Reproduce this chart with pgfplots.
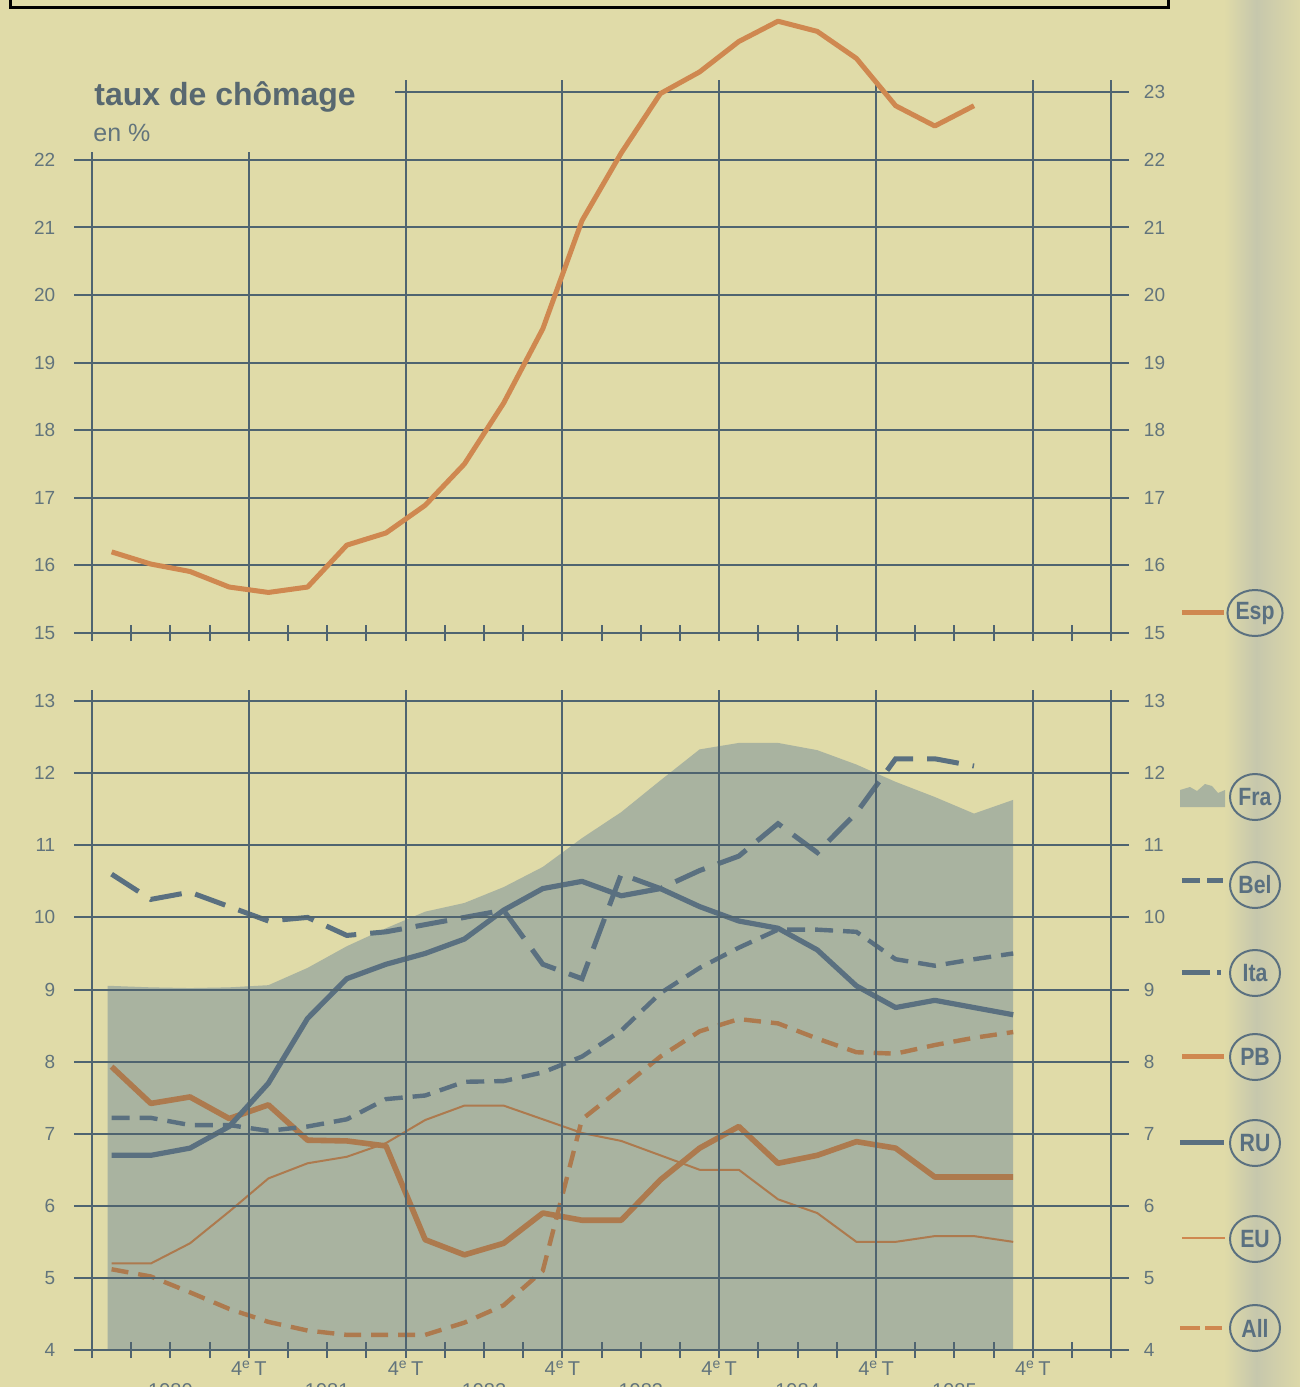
\documentclass[border=0pt]{standalone}
\usepackage{fontspec}
\setmainfont{Liberation Sans}
\usepackage{pgfplots}
\pgfplotsset{compat=1.18}
\usetikzlibrary{shapes.geometric}

\definecolor{bg}{HTML}{E0DBA8}
\definecolor{gridc}{HTML}{4F6470}
\definecolor{fra}{HTML}{A9B3A0}
\definecolor{blu}{HTML}{5A7080}
\definecolor{esp}{HTML}{CF8850}
\definecolor{ora}{HTML}{AD7A4E}
\definecolor{txt}{HTML}{62747C}
\definecolor{fold}{HTML}{C6C7AC}

\pgfplotsset{
  panel/.style={
    scale only axis, width=527.24pt,
    xmin=-0.45, xmax=26.45,
    axis lines*=left,
    y axis line style={draw=none},
    ytick style={draw=none},
    x axis line style={gridc, line width=1pt},
    xtick={0,4,8,12,16,20,24,26},
    minor xtick={1,2,3,5,6,7,9,10,11,13,14,15,17,18,19,21,22,23,25},
    xtick style={gridc, line width=1pt},
    tick align=center,
    major tick length=8pt, minor tick length=8pt,
    xmajorgrids, ymajorgrids,
    major grid style={gridc, line width=1pt},
    tick label style={font=\fontsize{9.5}{10}\selectfont, text=txt},
    /pgf/number format/assume math mode=true,
    yticklabel style={xshift=-2pt},
  },
  rlabels/.style={
    scale only axis, width=527.24pt,
    xmin=-0.45, xmax=26.45,
    hide x axis,
    axis y line*=right,
    y axis line style={draw=none},
    ytick style={draw=none},
    tick label style={font=\fontsize{9.5}{10}\selectfont, text=txt},
    /pgf/number format/assume math mode=true,
    yticklabel style={anchor=west, xshift=4pt},
  },
}

\newcommand\legc[2]{\node[draw=blu, line width=1pt, ellipse, minimum width=25pt, minimum height=23pt, inner sep=0pt, text=blu, font=\fontsize{12.5}{12.5}\selectfont\bfseries] at (627.5pt,#1) {\scalebox{0.85}[1]{#2}};}

\begin{document}
\begin{tikzpicture}
\useasboundingbox (0pt,0pt) rectangle (650pt,-693.5pt);
\fill[bg] (0pt,0pt) rectangle (650pt,-693.5pt);
\shade[left color=bg, right color=fold] (612pt,0pt) rectangle (628pt,-693.5pt);
\shade[left color=fold, right color=bg!85!fold] (628pt,0pt) rectangle (650pt,-693.5pt);
\draw[black, line width=1.5pt] (5pt,0pt) -- (5pt,-3.5pt) -- (584pt,-3.5pt) -- (584pt,0pt);

% ---------------- upper panel: Espagne
\begin{axis}[panel, at={(37.18pt,-316.5pt)}, anchor=south west,
  height=276.48pt, ymin=15, ymax=23.18, clip=false,
  ytick={15,16,...,23}, yticklabels={15,16,17,18,19,20,21,22,{}},
  xticklabels={}]
\fill[bg] (axis cs:-0.6,22.12) rectangle (axis cs:7.73,23.6);
\addplot[esp, line width=2.5pt, line join=round] coordinates {
(0.5,16.2) (1.5,16.02) (2.5,15.91) (3.5,15.68) (4.5,15.6) (5.5,15.68)
(6.5,16.3) (7.5,16.48) (8.5,16.89) (9.5,17.5) (10.5,18.4) (11.5,19.5)
(12.5,21.1) (13.5,22.1) (14.5,22.98) (15.5,23.3) (16.5,23.75) (17.5,24.05)
(18.5,23.9) (19.5,23.5) (20.5,22.8) (21.5,22.5) (22.5,22.8)};
\end{axis}
\begin{axis}[rlabels, at={(37.18pt,-316.5pt)}, anchor=south west,
  height=276.48pt, ymin=15, ymax=23.18, ytick={15,16,...,23}]
\end{axis}

% ---------------- lower panel
\begin{axis}[panel, at={(37.18pt,-675pt)}, anchor=south west,
  height=329.86pt, ymin=4, ymax=13.15, axis on top,
  ytick={4,5,...,13},
  xticklabels={,4\textsuperscript{e}\,T,4\textsuperscript{e}\,T,4\textsuperscript{e}\,T,4\textsuperscript{e}\,T,4\textsuperscript{e}\,T,4\textsuperscript{e}\,T,},
  xticklabel style={font=\fontsize{10}{10}\selectfont, yshift=2pt},
  extra x ticks={2,6,10,14,18,22},
  extra x tick labels={1980,1981,1982,1983,1984,1985},
  extra x tick style={major tick length=0pt, grid=none,
    xticklabel style={yshift=-15pt}}]
% France (area)
\addplot[fill=fra, draw=none] coordinates {
(0.4,9.05) (0.5,9.05) (1.5,9.03) (2.5,9.02) (3.5,9.03) (4.5,9.06) (5.5,9.3)
(6.5,9.6) (7.5,9.85) (8.5,10.08) (9.5,10.2) (10.5,10.42) (11.5,10.7)
(12.5,11.1) (13.5,11.46) (14.5,11.9) (15.5,12.33) (16.5,12.42) (17.5,12.42)
(18.5,12.32) (19.5,12.12) (20.5,11.88) (21.5,11.67) (22.5,11.44) (23.5,11.63)} \closedcycle;
% EU
\addplot[ora, line width=1pt, line join=round] coordinates {
(0.5,5.2) (1.5,5.2) (2.5,5.48) (3.5,5.92) (4.5,6.38) (5.5,6.59) (6.5,6.68)
(7.5,6.87) (8.5,7.19) (9.5,7.39) (10.5,7.39) (11.5,7.2) (12.5,7.01) (13.5,6.9)
(14.5,6.7) (15.5,6.5) (16.5,6.5) (17.5,6.09) (18.5,5.9) (19.5,5.5) (20.5,5.5)
(21.5,5.58) (22.5,5.58) (23.5,5.5)};
% All
\addplot[ora, line width=2.2pt, dash pattern=on 8.5pt off 5pt] coordinates {
(0.5,5.12) (1.5,5.02) (2.5,4.8) (3.5,4.57) (4.5,4.39) (5.5,4.27) (6.5,4.21)
(7.5,4.21) (8.5,4.21) (9.5,4.38) (10.5,4.62) (11.5,5.1) (12.5,7.2) (13.5,7.63)
(14.5,8.07) (15.5,8.42) (16.5,8.59) (17.5,8.53) (18.5,8.32) (19.5,8.13)
(20.5,8.11) (21.5,8.23) (22.5,8.33) (23.5,8.41)};
% PB
\addplot[ora, line width=2.8pt, line join=round] coordinates {
(0.5,7.93) (1.5,7.42) (2.5,7.51) (3.5,7.21) (4.5,7.4) (5.5,6.91) (6.5,6.9)
(7.5,6.83) (8.5,5.53) (9.5,5.32) (10.5,5.48) (11.5,5.9) (12.5,5.8) (13.5,5.8)
(14.5,6.36) (15.5,6.8) (16.5,7.1) (17.5,6.59) (18.5,6.7) (19.5,6.89) (20.5,6.8)
(21.5,6.4) (22.5,6.4) (23.5,6.4)};
% Ita
\addplot[blu, line width=2.2pt, dash pattern=on 9pt off 5pt] coordinates {
(0.5,7.22) (1.5,7.22) (2.5,7.12) (3.5,7.12) (4.5,7.04) (5.5,7.1) (6.5,7.2)
(7.5,7.48) (8.5,7.53) (9.5,7.72) (10.5,7.73) (11.5,7.85) (12.5,8.07) (13.5,8.43)
(14.5,8.95) (15.5,9.3) (16.5,9.58) (17.5,9.83) (18.5,9.83) (19.5,9.8)
(20.5,9.42) (21.5,9.33) (22.5,9.42) (23.5,9.5)};
% RU
\addplot[blu, line width=2.6pt, line join=round] coordinates {
(0.5,6.7) (1.5,6.7) (2.5,6.8) (3.5,7.1) (4.5,7.7) (5.5,8.6) (6.5,9.15)
(7.5,9.35) (8.5,9.5) (9.5,9.7) (10.5,10.1) (11.5,10.4) (12.5,10.5) (13.5,10.3)
(14.5,10.4) (15.5,10.15) (16.5,9.95) (17.5,9.85) (18.5,9.55) (19.5,9.05)
(20.5,8.75) (21.5,8.85) (22.5,8.75) (23.5,8.65)};
% Bel
\addplot[blu, line width=2.5pt, dash pattern=on 16pt off 7pt] coordinates {
(0.5,10.6) (1.5,10.25) (2.5,10.35) (3.5,10.15) (4.5,9.95) (5.5,10.0) (6.5,9.75)
(7.5,9.8) (8.5,9.9) (9.5,10.0) (10.5,10.1) (11.5,9.35) (12.5,9.15) (13.5,10.6)
(14.5,10.4) (15.5,10.65) (16.5,10.85) (17.5,11.3) (18.5,10.9) (19.5,11.45)
(20.5,12.2) (21.5,12.2) (22.5,12.1)};
\end{axis}
\begin{axis}[rlabels, at={(37.18pt,-675pt)}, anchor=south west,
  height=329.86pt, ymin=4, ymax=13.15, ytick={4,5,...,13}]
\end{axis}

% ---------------- title
\node[anchor=base west, inner sep=0pt, text=txt!90!black, font=\fontsize{16}{16}\selectfont\bfseries] at (47pt,-52.5pt) {taux de chômage};
\node[anchor=base west, inner sep=0pt, text=txt, font=\fontsize{12.5}{13}\selectfont] at (46.5pt,-70.8pt) {en \%};

% ---------------- legend
\draw[esp, line width=2.5pt] (591pt,-306.3pt) -- (612pt,-306.3pt);
\legc{-306.5pt}{Esp}
\fill[fra] (590pt,-403.5pt) -- (590pt,-395pt) -- (595pt,-393.5pt) -- (598.5pt,-395.5pt) -- (602.5pt,-392pt) -- (606pt,-393pt) -- (609pt,-396.5pt) -- (612.5pt,-395pt) -- (612.5pt,-403.5pt) -- cycle;
\legc{-398.5pt}{Fra}
\draw[blu, line width=2.5pt] (591pt,-440pt) -- (600pt,-440pt) (603.5pt,-440pt) -- (611.5pt,-440pt);
\legc{-442.5pt}{Bel}
\draw[blu, line width=2.2pt] (591pt,-486.3pt) -- (605pt,-486.3pt) (608.5pt,-486.3pt) -- (610.5pt,-486.3pt);
\legc{-486.5pt}{Ita}
\draw[esp, line width=2.8pt] (591pt,-528.3pt) -- (612pt,-528.3pt);
\legc{-528.5pt}{PB}
\draw[blu, line width=2.6pt] (590pt,-571.3pt) -- (612pt,-571.3pt);
\legc{-571.5pt}{RU}
\draw[esp, line width=1pt] (591pt,-619pt) -- (612.5pt,-619pt);
\legc{-619.5pt}{EU}
\draw[esp, line width=2pt] (590pt,-664pt) -- (600pt,-664pt) (602.5pt,-664pt) -- (611pt,-664pt);
\legc{-664pt}{All}
\end{tikzpicture}
\end{document}
